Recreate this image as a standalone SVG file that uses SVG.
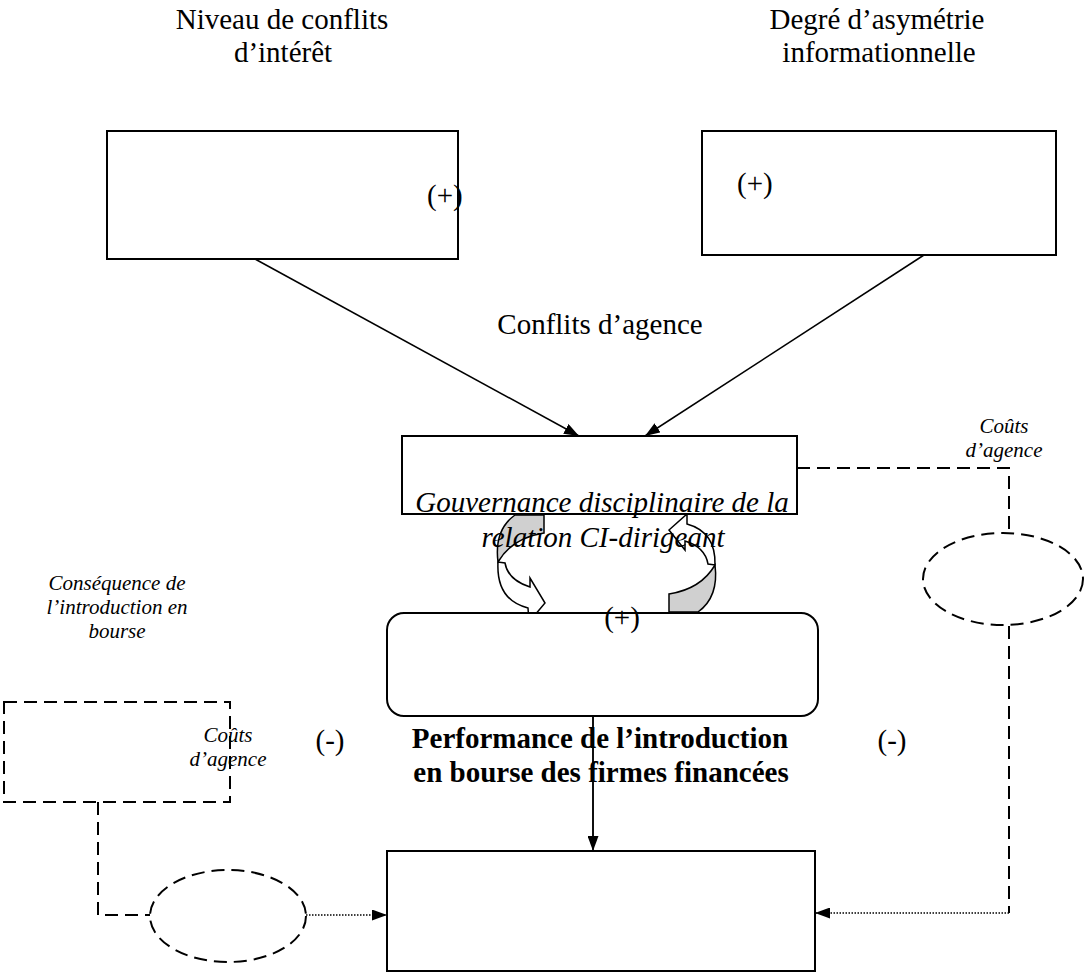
<svg xmlns="http://www.w3.org/2000/svg" width="1087" height="972" viewBox="0 0 1087 972">
  <style>
    .box { fill: #ffffff; stroke: #000000; stroke-width: 2; }
    .dbox { fill: none; stroke: #000000; stroke-width: 2; stroke-dasharray: 13 7; }
    .line { fill: none; stroke: #000000; stroke-width: 1.5; }
    .dash { fill: none; stroke: #000000; stroke-width: 2; stroke-dasharray: 13 7; }
    .dot { fill: none; stroke: #000000; stroke-width: 1.5; stroke-dasharray: 1.5 1.5; }
    .curve { stroke: #000000; stroke-width: 1.5; stroke-linejoin: miter; }
    .t { font-family: "Liberation Serif", "Times New Roman", serif; font-size: 29px; fill: #000000; }
    .c { text-anchor: middle; }
    .it { font-style: italic; }
    .sm { font-size: 21px; }
    .b { font-weight: bold; }
  </style>
  <defs>
    <marker id="head" viewBox="0 0 15 11" markerWidth="15" markerHeight="11" refX="15" refY="5.5" orient="auto" markerUnits="userSpaceOnUse">
      <path d="M0,0 L15,5.5 L0,11 Z" fill="#000000"/>
    </marker>
  </defs>

  <!-- connectors -->
  <g id="connectors">
    <line class="line" x1="255" y1="259" x2="579" y2="436" marker-end="url(#head)"/>
    <line class="line" x1="924" y1="255" x2="645" y2="436" marker-end="url(#head)"/>
    <line class="line" x1="593" y1="716" x2="593" y2="851" marker-end="url(#head)"/>
    <!-- agency costs loop on the right -->
    <path class="dash" d="M797,468 H1009 V533"/>
    <path class="dash" d="M1009,626 V913"/>
    <path class="dot" d="M1009,913 H815" marker-end="url(#head)"/>
    <!-- agency costs loop on the left -->
    <path class="dash" d="M98,802 V915 H150"/>
    <path class="dot" d="M306,915 H387" marker-end="url(#head)"/>
    <!-- curved feedback arrows -->
    <g id="loop-left">
      <path class="curve" fill="#d0d0d0" d="M515,515 L544,515 L544,533 Q512,538 498,562 Q494,530 515,515 Z"/>
      <path class="curve" fill="#ffffff" d="M498,562 Q496,600 528,608 L529,622 L545,603 L530,578 L530,587 Q508,580 505,563 Z"/>
    </g>
    <g id="loop-right">
      <path class="curve" fill="#d0d0d0" d="M698,612 L669,612 L669,594 Q701,589 715,565 Q719,597 698,612 Z"/>
      <path class="curve" fill="#ffffff" d="M715,565 Q716,532 687,524 L687,514 L669,530 L685,550 L685,541 Q705,547 708,564 Z"/>
    </g>
  </g>

  <!-- top labels -->
  <g id="label-conflits">
    <text class="t c" x="282" y="29">Niveau de conflits</text>
    <text class="t c" x="283" y="62">d’intérêt</text>
  </g>
  <g id="label-asymetrie">
    <text class="t c" x="877" y="29">Degré d’asymétrie</text>
    <text class="t c" x="879" y="62">informationnelle</text>
  </g>

  <g id="node-conflits">
    <rect class="box" x="107" y="131" width="351" height="128"/>
    <text class="t" x="427" y="205">(+)</text>
  </g>
  <g id="node-asymetrie">
    <rect class="box" x="702" y="131" width="354" height="124"/>
    <text class="t" x="737" y="193">(+)</text>
  </g>

  <g id="label-conflits-agence">
    <text class="t c" x="600" y="334">Conflits d’agence</text>
  </g>

  <g id="node-gouvernance">
    <rect class="box" x="402" y="436" width="395" height="78"/>
    <text class="t c it" x="602" y="512">Gouvernance disciplinaire de la</text>
    <text class="t c it" x="603" y="547">relation CI-dirigeant</text>
  </g>

  <g id="label-couts-right">
    <text class="t c it sm" x="1004" y="433">Coûts</text>
    <text class="t c it sm" x="1004" y="457">d’agence</text>
  </g>
  <g id="node-ellipse-right">
    <ellipse class="dbox" cx="1003" cy="579" rx="80" ry="46"/>
  </g>

  <g id="node-performance">
    <rect class="box" x="387" y="613" width="431" height="103" rx="17" ry="17"/>
    <text class="t c" x="622" y="627">(+)</text>
  </g>

  <g id="label-consequence">
    <text class="t c it sm" x="117" y="590">Conséquence de</text>
    <text class="t c it sm" x="117" y="614">l’introduction en</text>
    <text class="t c it sm" x="117" y="638">bourse</text>
  </g>

  <g id="node-consequence">
    <rect class="dbox" x="4" y="702" width="226" height="100"/>
  </g>
  <g id="label-couts-left">
    <text class="t c it sm" x="228" y="742">Coûts</text>
    <text class="t c it sm" x="228" y="766">d’agence</text>
  </g>

  <g id="label-signs">
    <text class="t c" x="330" y="750">(-)</text>
    <text class="t c" x="892" y="750">(-)</text>
  </g>

  <g id="label-performance">
    <text class="t c b" x="600" y="748">Performance de l’introduction</text>
    <text class="t c b" x="601" y="782">en bourse des firmes financées</text>
  </g>

  <g id="node-ellipse-left">
    <ellipse class="dbox" cx="228" cy="916" rx="78" ry="46"/>
  </g>

  <g id="node-result">
    <rect class="box" x="387" y="851" width="428" height="120"/>
  </g>

  <!-- vertical link drawn over its label -->
  <line class="line" x1="593" y1="716" x2="593" y2="836"/>
</svg>
